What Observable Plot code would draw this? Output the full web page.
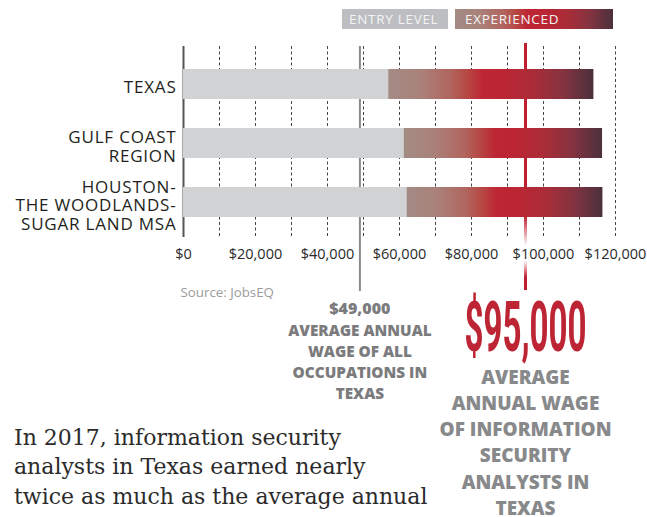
<!DOCTYPE html>
<html><head><meta charset="utf-8">
<script src="https://cdn.jsdelivr.net/npm/d3@7"></script>
<script src="https://cdn.jsdelivr.net/npm/@observablehq/plot@0.6"></script>
<style>
body{margin:0;background:#fff;}
#wrap{position:relative;width:647px;height:517px;overflow:hidden;font-family:"Open Sans",sans-serif;}
#chart{position:absolute;left:0;top:0;}
.key{position:absolute;top:9px;height:20px;color:#f4f4f4;font-size:13.5px;letter-spacing:0.7px;line-height:20px;box-sizing:border-box;font-family:"Open Sans",sans-serif;white-space:nowrap;}
#k1{left:342px;width:106px;padding-left:7px;background:#bdbec1;}
#k2{left:455px;width:158px;padding-left:10px;background:linear-gradient(to right,#a28b84 0%,#a9827a 15%,#b16660 30%,#b64a45 38%,#bd2634 46%,#bc2533 55%,#ab2c37 70%,#853340 85%,#4b303c 100%);}
#para{position:absolute;left:14px;top:423px;font-family:"DejaVu Serif",serif;font-size:22px;line-height:29.3px;color:#2b2b2b;white-space:nowrap;}
</style>
</head><body>
<div id="wrap">
  <div id="chart"></div>
  <div class="key" id="k1"></div>
  <div class="key" id="k2"></div>
  <div id="para"></div>
</div>
<script>
// ---- data ----
const regions = ["TEXAS", "GULF COAST\nREGION", "HOUSTON-\nTHE WOODLANDS-\nSUGAR LAND MSA"];
const entryLevel = [57000, 61300, 62100];
const experienced = [114000, 116400, 116500];
const tickValues = [0, 20000, 40000, 60000, 80000, 100000, 120000];
const gridValues = [10000, 20000, 30000, 40000, 50000, 60000, 70000, 80000, 90000, 100000, 110000, 120000];
const legendLabels = ["ENTRY LEVEL", "EXPERIENCED"];
const allOccWage = 49000;
const allOccLabel = "$49,000";
const allOccText = "AVERAGE ANNUAL\nWAGE OF ALL\nOCCUPATIONS IN\nTEXAS";
const analystWage = 95000;
const analystLabel = "$95,000";
const analystText = "AVERAGE\nANNUAL WAGE\nOF INFORMATION\nSECURITY\nANALYSTS IN\nTEXAS";
const sourceText = "Source: JobsEQ";
const paragraphLines = ["In 2017, information security", "analysts in Texas earned nearly", "twice as much as the average annual"];

const data = regions.map((r, i) => ({region: r, entry: entryLevel[i], exp: experienced[i]}));
const fmt = d3.format(",");
const sans = "'Open Sans', sans-serif";

const W = 647, H = 517, mTop = 46, mBottom = 280;

const plot = Plot.plot({
  width: W, height: H,
  marginLeft: 183, marginRight: 32, marginTop: mTop, marginBottom: mBottom,
  style: {fontFamily: sans, background: "transparent", overflow: "visible"},
  x: {domain: [0, 120000], axis: null},
  y: {domain: regions, axis: null, paddingInner: 0.494, paddingOuter: 0.363, align: 0.53},
  marks: [
    Plot.ruleX(gridValues, {x: d => d, stroke: "#444", strokeWidth: 1, strokeDasharray: "3,2.5", insetBottom: -1}),
    Plot.ruleX([0], {x: d => d, stroke: "#555", strokeWidth: 2}),
    Plot.ruleX([allOccWage], {x: d => d, stroke: "#8a8a8c", strokeWidth: 2, insetBottom: -54}),
    Plot.ruleX([analystWage], {x: d => d, stroke: "url(#redFade)", strokeWidth: 3, insetTop: -3, insetBottom: -53}),
    Plot.barX(data, {y: "region", x1: 0, x2: "entry", fill: "#d1d2d4"}),
    Plot.barX(data, {y: "region", x1: "entry", x2: "exp", fill: "url(#expGrad)"}),
    Plot.text(data, {y: "region", text: "region", frameAnchor: "left", textAnchor: "end", dx: -7, dy: 3,
      fontSize: 17, lineHeight: 1.08, fill: "#231f20"}),
    Plot.text(tickValues, {x: d => d, text: d => "$" + fmt(d), frameAnchor: "bottom", lineAnchor: "middle", dy: 17, fontSize: 14.5, fill: "#2a2a2a"}),
    Plot.text([sourceText], {text: d => d, frameAnchor: "bottom-left", lineAnchor: "middle", textAnchor: "start", dx: -3, dy: 55, fontSize: 13.3, fill: "#9b9b9b"}),
    Plot.text([allOccWage], {x: d => d, text: () => allOccLabel, frameAnchor: "bottom", lineAnchor: "middle", dy: 71, fontSize: 16, fontWeight: 800, fill: "#7b7b7d"}),
    Plot.text([allOccWage], {x: d => d, text: () => allOccText, frameAnchor: "bottom", lineAnchor: "middle", dy: 123.7, fontSize: 15.3, lineHeight: 1.37, fontWeight: 800, fill: "#7b7b7d"}),
    Plot.text([analystWage], {x: d => d, text: () => analystLabel, frameAnchor: "bottom", lineAnchor: "middle", dy: 91, fontSize: 70, fontWeight: 700, fill: "#bd2534", fontFamily: "Roboto"}),
    Plot.text([analystWage], {x: d => d, text: () => analystText, frameAnchor: "bottom", lineAnchor: "middle", dy: 203.3, fontSize: 19, lineHeight: 1.38, fontWeight: 800, fill: "#88898b"})
  ]
});

// gradients
const svgSel = d3.select(plot);
const defs = svgSel.insert("defs", ":first-child");
const g1 = defs.append("linearGradient").attr("id", "expGrad").attr("x1", 0).attr("x2", 1).attr("y1", 0).attr("y2", 0);
[[0,"#a28b84"],[0.15,"#a9827a"],[0.3,"#b16660"],[0.38,"#b64a45"],[0.46,"#bd2634"],[0.55,"#bc2533"],[0.7,"#ab2c37"],[0.85,"#853340"],[1,"#4b303c"]]
  .forEach(([o,c]) => g1.append("stop").attr("offset", o).attr("stop-color", c));
const fadeTop = mTop - 3, fadeBot = H - mBottom + 53;
const g2 = defs.append("linearGradient").attr("id", "redFade").attr("gradientUnits", "userSpaceOnUse")
  .attr("x1", 0).attr("x2", 0).attr("y1", fadeTop).attr("y2", fadeBot);
[[0,"#be1e2d"],[0.70,"#be1e2d"],[0.82,"#ffffff"],[0.88,"#ffffff"],[0.95,"#be1e2d"],[1,"#be1e2d"]]
  .forEach(([o,c]) => g2.append("stop").attr("offset", o).attr("stop-color", c));

// condense the big number
svgSel.selectAll("text").filter(function(){ return this.textContent === analystLabel; })
  .attr("textLength", 122).attr("lengthAdjust", "spacingAndGlyphs");
// wider tracking on the region labels
const flat = new Set(regions.map(r => r.replace(/\n/g, "")));
svgSel.selectAll("text").filter(function(){ return flat.has(this.textContent); })
  .attr("letter-spacing", "0.8").selectAll("tspan").attr("letter-spacing", "0.8");

document.getElementById("chart").appendChild(plot);
document.getElementById("k1").textContent = legendLabels[0];
document.getElementById("k2").textContent = legendLabels[1];
document.getElementById("para").innerHTML = paragraphLines.join("<br>");
</script>
</body></html>
